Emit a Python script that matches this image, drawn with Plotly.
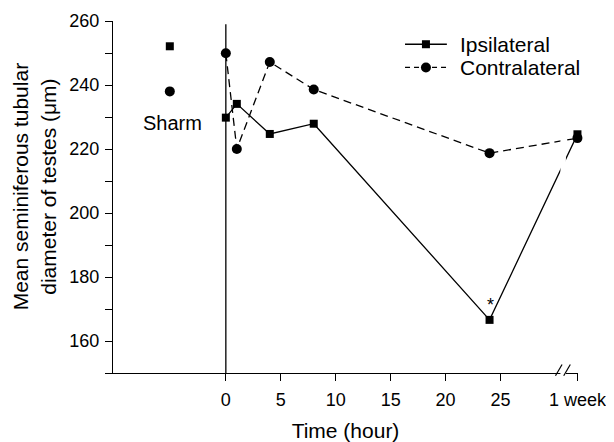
import plotly.graph_objects as go

# ---- data ----
time_hours = [0, 1, 4, 8, 24, 32]          # 32 = position of "1 week" on the axis
ipsilateral = [229.8, 234.1, 224.7, 227.9, 166.6, 224.6]
contralateral = [249.9, 220.0, 247.2, 238.6, 218.7, 223.4]
sharm_x = -5.1
sharm_ipsi = 252.1
sharm_contra = 238.0
x_tick_vals = [0, 5, 10, 15, 20, 25, 32]
x_tick_text = ["0", "5", "10", "15", "20", "25", "1 week"]
y_tick_vals = [150, 160, 170, 180, 190, 200, 210, 220, 230, 240, 250, 260]
y_tick_text = ["", "160", "", "180", "", "200", "", "220", "", "240", "", "260"]
series_names = ["Ipsilateral", "Contralateral"]

FONT = "Liberation Sans, Arial, sans-serif"
BLACK = "#000000"

fig = go.Figure()

fig.add_trace(go.Scatter(
    x=time_hours, y=ipsilateral, name=series_names[0], mode="lines+markers",
    line=dict(color=BLACK, width=1.3),
    marker=dict(symbol="square", size=8, color=BLACK),
    cliponaxis=False, showlegend=False,
))
fig.add_trace(go.Scatter(
    x=time_hours, y=contralateral, name=series_names[1], mode="lines+markers",
    line=dict(color=BLACK, width=1.3, dash="8px,5px"),
    marker=dict(symbol="circle", size=10, color=BLACK),
    cliponaxis=False, showlegend=False,
))
# Sharm (control) points
fig.add_trace(go.Scatter(
    x=[sharm_x], y=[sharm_ipsi], mode="markers", showlegend=False,
    marker=dict(symbol="square", size=8, color=BLACK), cliponaxis=False,
))
fig.add_trace(go.Scatter(
    x=[sharm_x], y=[sharm_contra], mode="markers", showlegend=False,
    marker=dict(symbol="circle", size=10, color=BLACK), cliponaxis=False,
))

# vertical reference line at time 0
fig.add_shape(type="line", xref="x", yref="y", x0=0, x1=0, y0=150, y1=259,
              line=dict(color=BLACK, width=1.3), layer="below")

# axis break: white gap + two slashes
fig.add_shape(type="rect", xref="x", yref="paper", x0=30.45, x1=30.95,
              y0=-0.012, y1=1.0, fillcolor="white", line=dict(width=0), layer="above")
for xb in (30.3, 31.05):
    fig.add_shape(type="line", xref="x", yref="paper",
                  x0=xb - 0.3, x1=xb + 0.3, y0=-0.008, y1=0.024,
                  line=dict(color=BLACK, width=1.2), layer="above")

# legend (drawn as decoration so its row spacing matches the original)
legend_rows = [0.934, 0.868]
legend_dash = ["solid", "5px,4px"]
legend_symbol = ["rect", "circle"]
legend_half = [4, 5]
for name, yr, dash, sym, h in zip(series_names, legend_rows, legend_dash,
                                   legend_symbol, legend_half):
    fig.add_shape(type="line", xref="paper", yref="paper", x0=0.628, x1=0.718,
                  y0=yr, y1=yr, line=dict(color=BLACK, width=1.3, dash=dash))
    fig.add_shape(type=sym, xref="paper", yref="paper", xsizemode="pixel",
                  ysizemode="pixel", xanchor=0.673, yanchor=yr,
                  x0=-h, x1=h, y0=-h, y1=h, fillcolor=BLACK, line=dict(width=0))
    fig.add_annotation(x=0.742, y=yr, xref="paper", yref="paper", text=name,
                       showarrow=False, xanchor="left", yanchor="middle",
                       font=dict(family=FONT, size=21, color=BLACK))

fig.add_annotation(x=sharm_x + 0.2, y=228, xref="x", yref="y", text="Sharm",
                   showarrow=False, font=dict(family=FONT, size=20, color=BLACK))
fig.add_annotation(x=24.1, y=171.2, xref="x", yref="y", text="*",
                   showarrow=False, font=dict(family=FONT, size=18, color=BLACK))
fig.add_annotation(x=-0.168, y=0.53, xref="paper", yref="paper",
                   text="Mean seminiferous tubular<br>diameter of testes (μm)",
                   textangle=-90, showarrow=False, xanchor="center", yanchor="middle",
                   font=dict(family=FONT, size=21, color=BLACK))

# the page body has an 8px default margin, so the figure is 8px smaller
fig.update_layout(
    width=606, height=434,
    margin=dict(l=105, r=36, t=13, b=69, autoexpand=False),
    paper_bgcolor="white", plot_bgcolor="white",
    font=dict(family=FONT, size=18, color=BLACK),
    showlegend=False,
    xaxis=dict(range=[-10.27, 32.05], showgrid=False, zeroline=False,
               automargin=False,
               showline=True, linecolor=BLACK, linewidth=1.3,
               ticks="outside", ticklen=7, tickwidth=1.3, tickcolor=BLACK,
               tickvals=x_tick_vals, ticktext=x_tick_text, ticklabelstandoff=3,
               tickfont=dict(family=FONT, size=18, color=BLACK),
               title=dict(text="Time (hour)", standoff=16,
                          font=dict(family=FONT, size=21, color=BLACK))),
    yaxis=dict(range=[150, 260], showgrid=False, zeroline=False,
               automargin=False,
               showline=True, linecolor=BLACK, linewidth=1.3,
               ticks="outside", ticklen=7, tickwidth=1.3, tickcolor=BLACK,
               tickvals=y_tick_vals, ticktext=y_tick_text, ticklabelstandoff=2,
               tickfont=dict(family=FONT, size=18, color=BLACK)),
)

fig.write_html("out.html")
